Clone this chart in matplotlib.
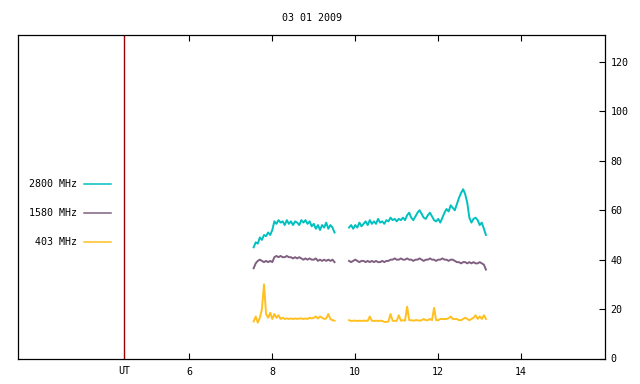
import numpy as np
import matplotlib
matplotlib.use("Agg")
import matplotlib.pyplot as plt
from matplotlib.lines import Line2D

# sampling: two observing segments, one reading every 0.05 h
seg1_start, seg2_start, step = 7.55, 9.85, 0.05

f2800_seg1 = [45, 47, 46.5, 49, 48, 50, 49.5, 51, 50, 52,
              55.5, 54.5, 56, 55, 55.5, 54, 56, 54.5, 55.5, 54,
              55.5, 55, 54, 56, 55, 56, 54.5, 55.5, 53.5, 54.5,
              52.5, 54, 52, 54, 53, 55, 52.5, 54, 53, 51]
f2800_seg2 = [53, 54, 52.5, 54, 53, 55, 53.5, 54.5, 55.5, 54,
              56, 54.5, 55.5, 54.5, 56.5, 55, 55.5, 54.5, 56, 55.5,
              57, 56, 56.5, 55.5, 56.5, 56, 57, 56, 58, 59,
              57, 56, 57.5, 59, 60, 58.5, 57, 56.5, 58, 59,
              57.5, 56, 55.5, 56.5, 55, 57, 59, 60.5, 59.5, 62,
              61, 60, 62.5, 65, 67, 68.5, 66.5, 63, 57, 55,
              56.5, 57, 56, 54, 55, 52.5, 50]

f1580_seg1 = [36.5, 38.5, 39.5, 40, 39.5, 39, 39.5, 39, 39.5, 39,
              41, 41.5, 41, 41.5, 41, 41, 41.5, 41, 41, 40.5,
              41, 40.5, 41, 40.5, 40, 40.5, 40, 40.5, 40, 40,
              40.5, 39.5, 40, 39.5, 40, 39.5, 40, 39.5, 40, 39]
f1580_seg2 = [39.5, 39, 39.5, 40, 39.5, 39, 39.5, 39.5, 39, 39.5,
              39, 39.5, 39, 39.5, 39, 39, 39.5, 39, 39.5, 39.5,
              40, 40, 40.5, 40, 40, 40.5, 40, 40, 40.5, 40,
              40, 39.5, 40, 40, 40.5, 40, 39.5, 40, 40, 40.5,
              40, 40, 39.5, 40, 40, 40.5, 40, 40, 39.5, 40,
              40, 39.5, 39, 39, 38.5, 39, 39, 38.5, 39, 38.5,
              39, 38.5, 38.5, 39, 38.5, 38, 36]

f403_seg1 = [15, 17, 14.5, 16.5, 20, 30, 18, 16.5, 18.5, 16,
             18, 16.5, 17.5, 16, 16.5, 16, 16.2, 16, 16.2, 16,
             16.2, 16, 16.2, 16.2, 16, 16.2, 16, 16.5, 16.2, 16.5,
             17, 16.2, 17, 16.5, 16, 16.2, 18, 16, 15.5, 15.3]
f403_seg2 = [15.5, 15.2, 15.3, 15.3, 15.2, 15.3, 15.2, 15.3, 15.3, 15.2,
             17, 15.3, 15.2, 15.3, 15.2, 15.3, 15.2, 14.8, 14.8, 15,
             18, 15.3, 15.2, 15.3, 17.5, 15.3, 15.5, 15.3, 21, 15.5,
             15.5, 15.3, 15.5, 15.5, 15.3, 15.5, 16, 15.5, 15.5, 16,
             15.5, 20.5, 15.5, 15.5, 16, 16, 16, 16, 16.3, 17,
             16, 16, 16, 15.5, 15.5, 16, 16.5, 16, 15.5, 16,
             16.5, 17.5, 16, 17, 16, 17.5, 16]

series = [
    ("2800 MHz", "#00c0c0", f2800_seg1, f2800_seg2),
    ("1580 MHz", "#806080", f1580_seg1, f1580_seg2),
    ("403 MHz", "#ffc020", f403_seg1, f403_seg2),
]

ut_marker = 4.43
x_ticks = [6, 8, 10, 12, 14]
y_ticks = [0, 20, 40, 60, 80, 100, 120]

mono = "DejaVu Sans Mono"
fs = 7.2

fig = plt.figure(figsize=(6.4, 3.84), dpi=100)
ax = fig.add_axes([18 / 640, 1 - 358.5 / 384, (605 - 18) / 640, (358.5 - 35.3) / 384])

for name, color, s1, s2 in series:
    t1 = seg1_start + step * np.arange(len(s1))
    t2 = seg2_start + step * np.arange(len(s2))
    ax.plot(t1, s1, color=color, lw=1.4)
    ax.plot(t2, s2, color=color, lw=1.4)

ax.axvline(ut_marker, color="#a00000", lw=1.0)

ax.set_xlim(1.87, 16.02)
ax.set_ylim(0, 130.8)

ax.set_xticks(x_ticks)
ax.set_xticklabels([str(v) for v in x_ticks], fontfamily=mono, fontsize=fs)
ax.set_yticks(y_ticks)
ax.set_yticklabels([str(v) for v in y_ticks], fontfamily=mono, fontsize=fs)
ax.tick_params(axis="x", direction="in", top=True, bottom=True, length=4, width=0.8, pad=6)
ax.tick_params(axis="y", direction="in", left=False, right=True, labelleft=False,
               labelright=True, length=4, width=0.8, pad=4)
for sp in ax.spines.values():
    sp.set_linewidth(0.9)

ax.text(ut_marker, -0.040, "UT", transform=ax.get_xaxis_transform(),
        ha="center", va="center", fontfamily=mono, fontsize=fs)

fig.text(312 / 640, 1 - 18 / 384, "03 01 2009", ha="center", va="center",
         fontfamily=mono, fontsize=fs)

# key on the left
for i, (name, color, _, _) in enumerate(series):
    y = 1 - (184.3 + 29 * i) / 384
    fig.text(77 / 640, y, name, ha="right", va="center", fontfamily=mono, fontsize=fs)
    fig.add_artist(Line2D([84 / 640, 111 / 640], [y, y], color=color, lw=1.1))

fig.savefig("out.png", dpi=100)
